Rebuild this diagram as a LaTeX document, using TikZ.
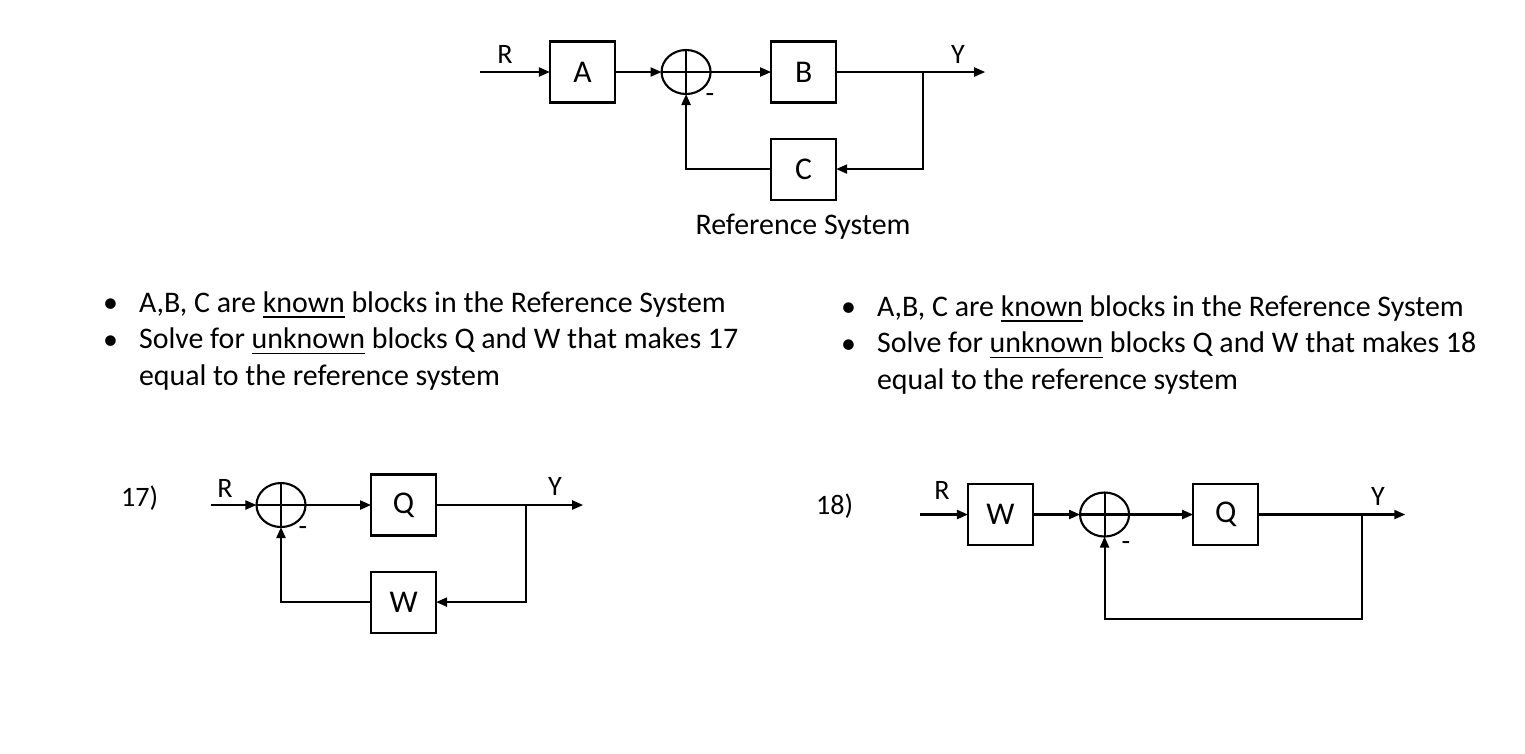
\documentclass[tikz,border=0pt]{standalone}
\usepackage{fontspec}
\setmainfont{Carlito}
\usetikzlibrary{arrows.meta,positioning,calc,shapes.geometric}

\begin{document}
\begin{tikzpicture}[
    x=0.01cm, y=-0.01cm,
    line width=0.6pt,
    block/.style={rectangle, draw, minimum width=0.65cm, minimum height=0.61cm, outer sep=0pt, font=\fontsize{9}{11}\selectfont},
    sumnode/.style={ellipse, draw, minimum width=0.49cm, minimum height=0.44cm, inner sep=0pt, outer sep=0pt,
        path picture={\draw (path picture bounding box.north) -- (path picture bounding box.south)
                            (path picture bounding box.west) -- (path picture bounding box.east);}},
    arrow/.style={-{Triangle[length=1.1mm, width=0.9mm]}},
    sig/.style={font=\fontsize{8}{9}\selectfont, inner sep=0pt},
    note/.style={font=\fontsize{8.5}{10.4}\selectfont, align=left, anchor=base west, inner sep=0pt},
    tag/.style={font=\fontsize{8}{10}\selectfont, anchor=base west, inner sep=0pt}
]
\useasboundingbox (0,0) rectangle (1525,753);

% Reference system
\node[block] (A) at (582.5,72) {A};
\node[sumnode, right=0.465cm of A] (s1) {};
\node[block, right=0.605cm of s1] (B) {B};
\node[block, below=0.36cm of B] (C) {C};
\coordinate[left=0.70cm of A] (r1);
\coordinate[right=0.87cm of B] (b1);
\coordinate[right=1.49cm of B] (y1);

\node[sig] (rl1) at (505,54) {R};
\node[sig] (yl1) at (958,54) {Y};
\node[sig] (m1) at (710,98) {-};
\node[font=\fontsize{8.5}{10}\selectfont, anchor=base, inner sep=0pt] (cap) at (803,234) {Reference System};

\draw[arrow] (r1) -- (A);
\draw[arrow] (A) -- (s1);
\draw[arrow] (s1) -- (B);
\draw[arrow] (B) -- (y1);
\draw[arrow] (b1) |- (C);
\draw[arrow] (C) -| (s1);

% Task notes
\node[note] (d1) at (102,312) {\textbullet};
\node[note] (t1) at (138,312) {A,B, C are \underline{known} blocks in the Reference System};
\node[note] (d2) at (102,349) {\textbullet};
\node[note] (t2) at (138,385) {Solve for \underline{unknown} blocks Q and W that makes 17\\equal to the reference system};

\node[note] (d3) at (840,316) {\textbullet};
\node[note] (t3) at (876,316) {A,B, C are \underline{known} blocks in the Reference System};
\node[note] (d4) at (840,353) {\textbullet};
\node[note] (t4) at (876,389) {Solve for \underline{unknown} blocks Q and W that makes 18\\equal to the reference system};

% Problem 17
\node[tag] (n17) at (120,506) {17)};
\node[sumnode] (s2) at (281,505) {};
\node[block, right=0.655cm of s2] (Q1) {Q};
\node[block, below=0.36cm of Q1] (W1) {W};
\coordinate[left=0.45cm of s2] (r2);
\coordinate[right=0.90cm of Q1] (b2);
\coordinate[right=1.47cm of Q1] (y2);

\node[sig] (rl2) at (225,488) {R};
\node[sig] (yl2) at (555,486) {Y};
\node[sig] (m2) at (303,531) {-};

\draw[arrow] (r2) -- (s2);
\draw[arrow] (s2) -- (Q1);
\draw[arrow] (Q1) -- (y2);
\draw[arrow] (b2) |- (W1);
\draw[arrow] (W1) -| (s2);

% Problem 18
\node[tag] (n18) at (815,514) {18)};
\node[block] (W2) at (1000.5,514.5) {W};
\node[sumnode, right=0.47cm of W2] (s3) {};
\node[block, right=0.64cm of s3] (Q2) {Q};
\coordinate[left=0.48cm of W2] (r3);
\coordinate[right=1.04cm of Q2] (b3);
\coordinate[right=1.47cm of Q2] (y3);
\coordinate[below=1.04cm of b3] (f3);

\node[sig] (rl3) at (942,490) {R};
\node[sig] (yl3) at (1378,496) {Y};
\node[sig] (m3) at (1126,546) {-};

\draw[arrow] (r3) -- (W2);
\draw[arrow] (W2) -- (s3);
\draw[arrow] (s3) -- (Q2);
\draw[arrow] (Q2) -- (y3);
\draw[arrow] (b3) -- (f3) -| (s3);
\end{tikzpicture}
\end{document}
